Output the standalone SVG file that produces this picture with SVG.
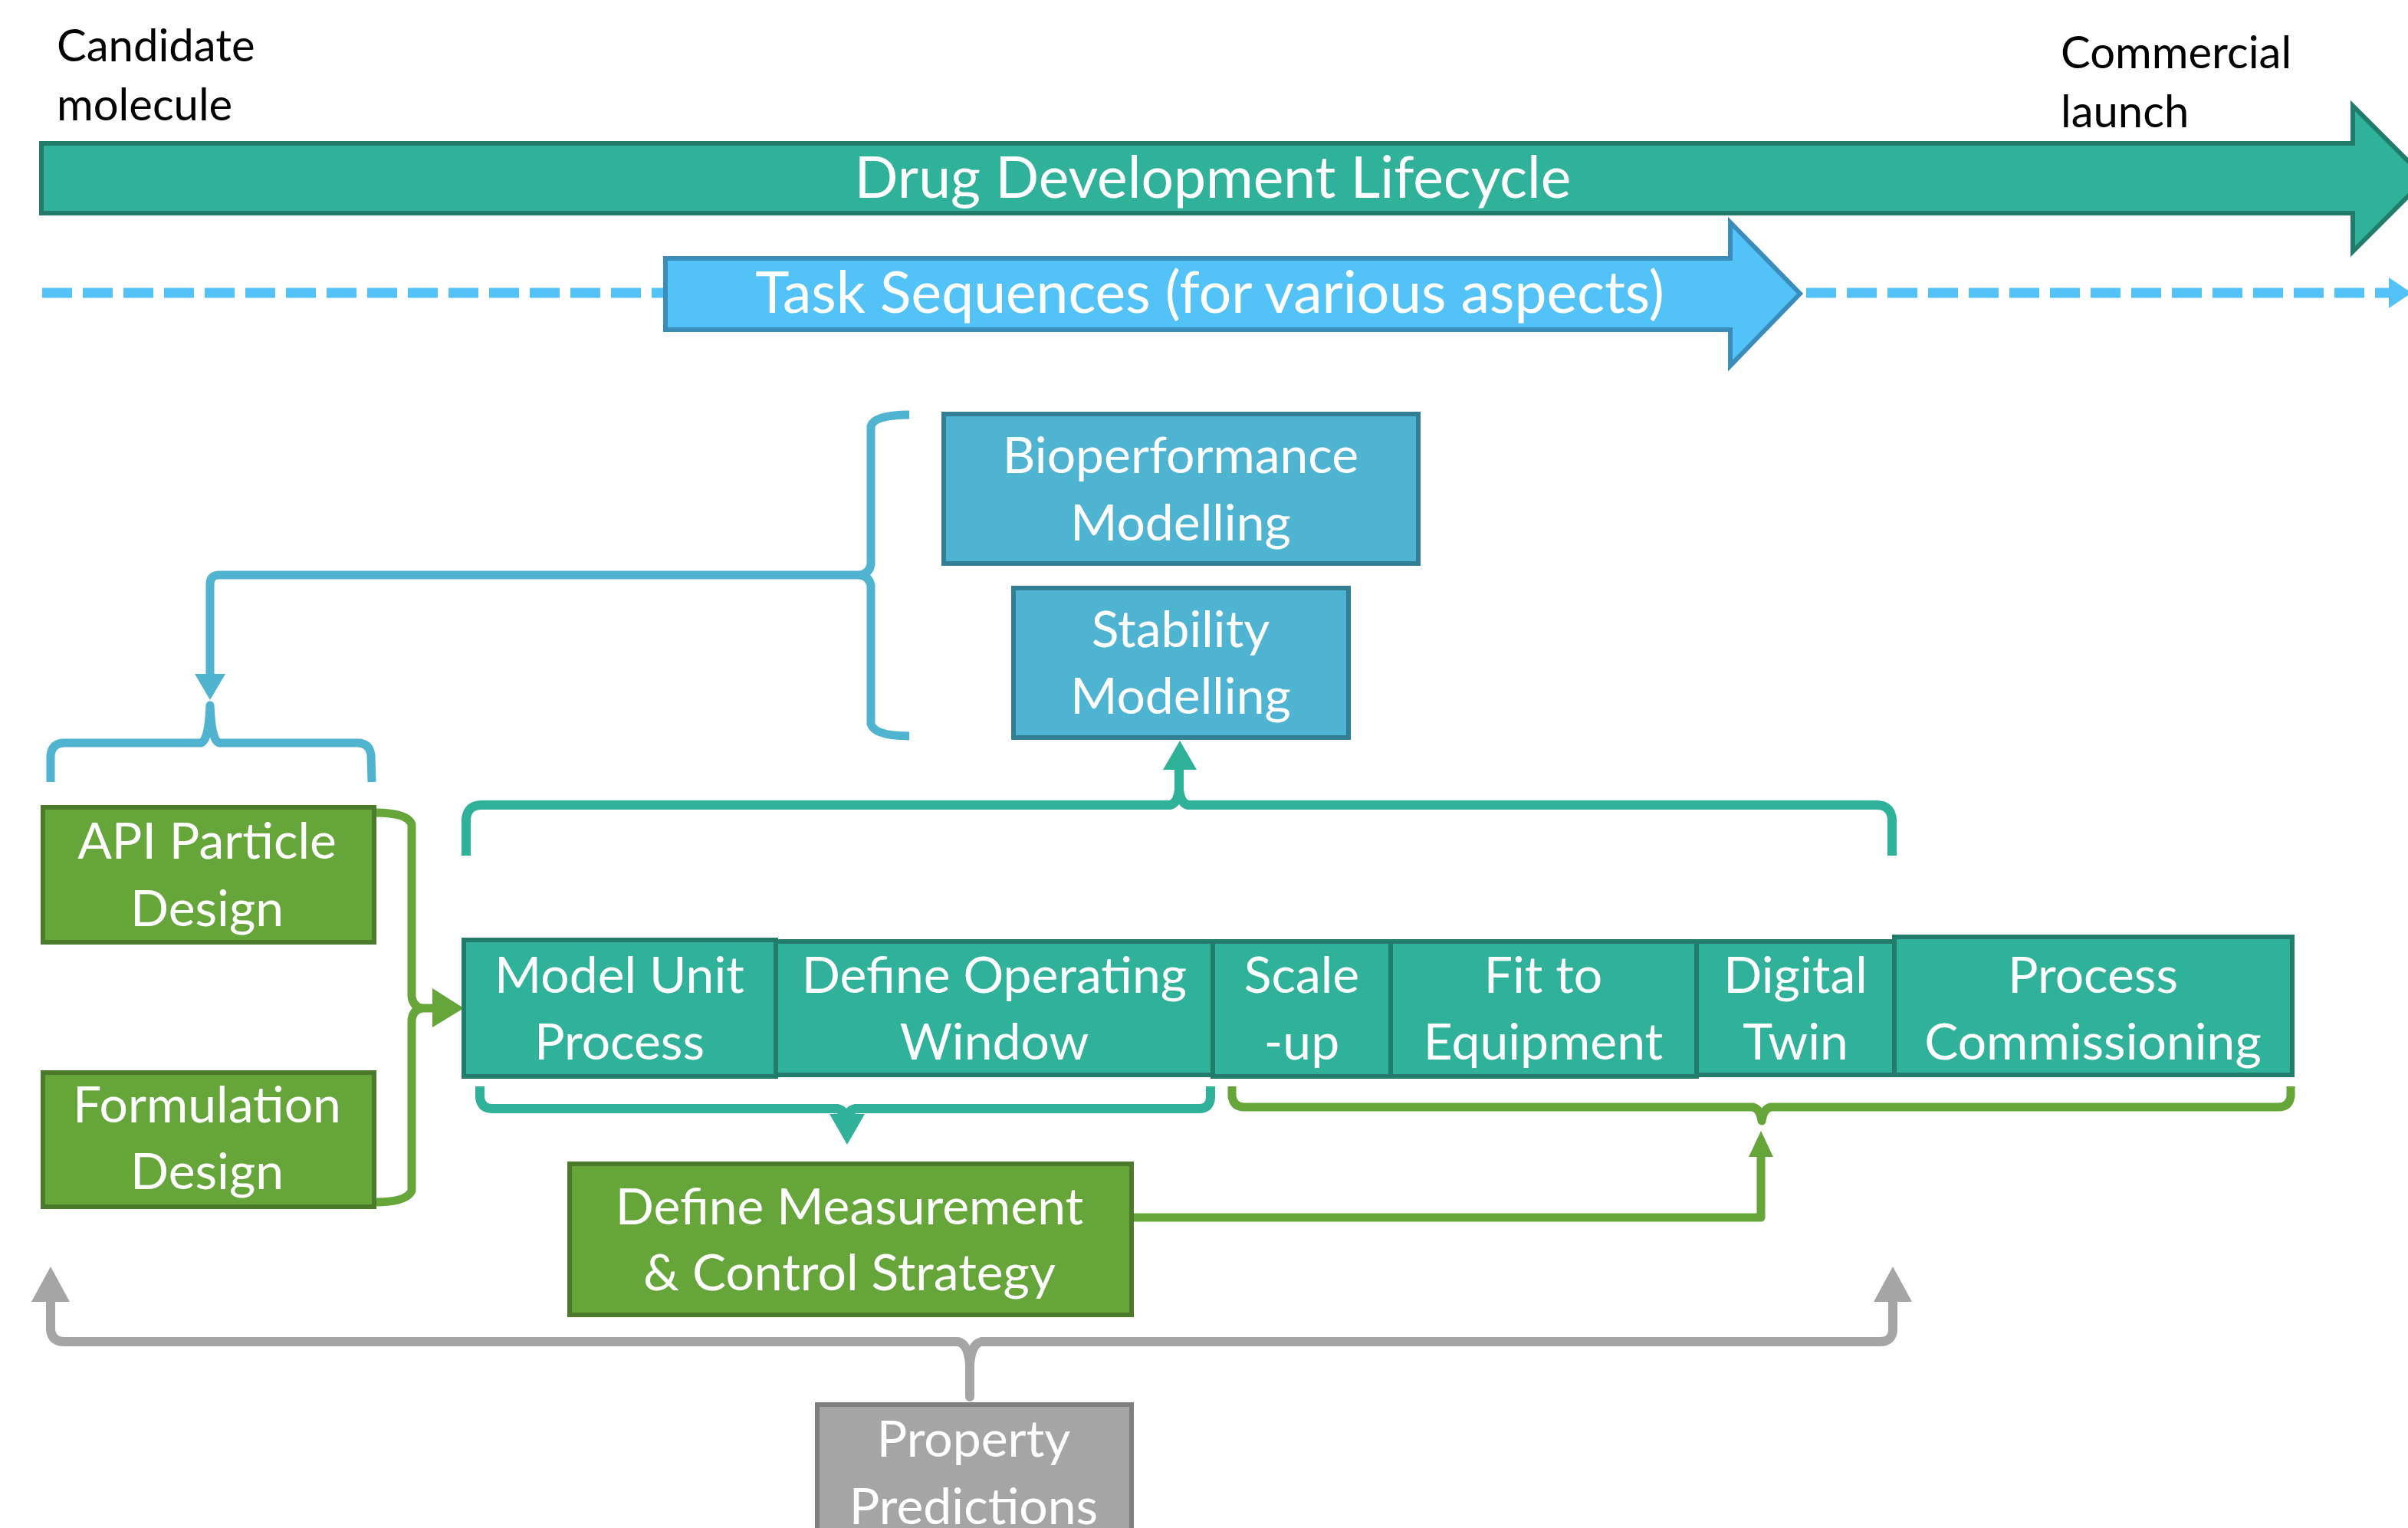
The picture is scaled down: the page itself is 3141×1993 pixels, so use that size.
<svg xmlns="http://www.w3.org/2000/svg" width="3141" height="1993" viewBox="0 0 3141 1993">
<style>
.bg{fill:#ffffff}
.t{font-family:Lato,"Liberation Sans",sans-serif;fill:#ffffff;text-anchor:middle;font-size:66px}
.big{font-family:Lato,"Liberation Sans",sans-serif;fill:#ffffff;text-anchor:middle;font-size:75px}
.lbl{font-family:Lato,"Liberation Sans",sans-serif;fill:#000000;font-size:58px}
.teal{fill:#2FB19A;stroke:#217C6C;stroke-width:6}
.blue{fill:#4FB3D2;stroke:#327E94;stroke-width:6}
.lblue{fill:#53C3F7;stroke:#3A8CBA;stroke-width:6}
.green{fill:#66A53A;stroke:#4A7A2A;stroke-width:6}
.gray{fill:#A5A5A5;stroke:#7F7F7F;stroke-width:6}
.cb{fill:none;stroke:#50B3D0;stroke-width:11;stroke-linejoin:round}
.ct{fill:none;stroke:#2FB19A;stroke-width:12;stroke-linejoin:round}
.cg{fill:none;stroke:#66A53A;stroke-width:11;stroke-linejoin:round}
.cgr{fill:none;stroke:#A5A5A5;stroke-width:12;stroke-linejoin:round}
.cd{fill:none;stroke:#53C3F7;stroke-width:13;stroke-dasharray:39 14}
</style>
<rect class="bg" x="0" y="0" width="3141" height="1993"/>

<g id="connectors">
  <path class="cd" d="M55,382 H868"/>
  <path class="cd" d="M2356,382 H3118"/>
  <polygon fill="#53C3F7" points="3116,362 3146,382 3116,402"/>

  <path class="cb" d="M1186,541 Q1140,541 1136,556 L1136,736 Q1134,748 1122,750 Q1134,752 1136,764 L1136,944 Q1140,960 1186,960"/>
  <path class="cb" d="M1124,750 L286,750 Q274,750 274,762 L274,882"/>
  <polygon fill="#50B3D0" points="254,879 294,879 274,913"/>
  <path class="cb" d="M66,1020 L66,985 Q68,969 84,969 L262,969 Q272,967 274,920 Q276,967 286,969 L466,969 Q482,969 484,985 L485,1020"/>

  <path class="ct" d="M608,1116 L608,1068 Q610,1050 628,1050 L1526,1050 Q1536,1048 1538,1030 Q1540,1048 1550,1050 L2448,1050 Q2466,1050 2468,1068 L2468,1116"/>
  <path class="ct" d="M1538,1036 L1538,1000"/>
  <polygon fill="#2FB19A" points="1517,1004 1561,1004 1539,966"/>

  <path class="ct" d="M626,1417 L626,1432 Q628,1446 642,1446 L1092,1446 Q1102,1448 1104,1460 Q1106,1448 1116,1446 L1564,1446 Q1578,1446 1579,1432 L1579,1417"/>
  <polygon fill="#2FB19A" points="1082,1453 1128,1453 1105,1493"/>

  <path class="cg" d="M1607,1417 L1607,1430 Q1609,1444 1623,1444 L2286,1444 Q2296,1446 2298,1462 Q2300,1446 2310,1444 L2972,1444 Q2986,1444 2988,1430 L2988,1417"/>
  <path class="cg" d="M1476,1588 L2297,1588 L2297,1505"/>
  <polygon fill="#66A53A" points="2281,1509 2313,1509 2297,1475"/>

  <path class="cg" d="M489,1060 Q531,1060 537,1075 L537,1300 Q539,1313 550,1315 Q539,1317 537,1330 L537,1553 Q531,1568 489,1568"/>
  <path class="cg" d="M548,1315 L568,1315"/>
  <polygon fill="#66A53A" points="564,1289 605,1315 564,1340"/>

  <path class="cgr" d="M66,1698 L66,1735 Q68,1750 84,1750 L1250,1750 Q1263,1753 1265,1780 L1265,1822 L1265,1780 Q1267,1753 1280,1750 L2452,1750 Q2468,1750 2469,1735 L2469,1698"/>
  <polygon fill="#A5A5A5" points="41,1698 91,1698 66,1652"/>
  <polygon fill="#A5A5A5" points="2444,1698 2494,1698 2469,1652"/>
</g>

<g id="label-candidate">
  <text class="lbl" x="74" y="80">Candidate</text>
  <text class="lbl" x="74" y="157">molecule</text>
</g>
<g id="label-commercial">
  <text class="lbl" x="2688" y="89">Commercial</text>
  <text class="lbl" x="2688" y="166">launch</text>
</g>

<g id="drug-lifecycle">
  <polygon class="teal" points="54,187 3069,187 3069,138 3164,233 3069,328 3069,278 54,278"/>
  <text class="big" x="1582" y="258">Drug Development Lifecycle</text>
</g>

<g id="task-sequences">
  <polygon class="lblue" points="868,337 2257,337 2257,290 2348,383 2257,477 2257,430 868,430"/>
  <text class="big" x="1578" y="408" font-size="77">Task Sequences (for various aspects)</text>
</g>

<g id="bioperformance">
  <rect class="blue" x="1231" y="540" width="619" height="195"/>
  <text class="t" x="1540" y="617">Bioperformance</text>
  <text class="t" x="1540" y="705">Modelling</text>
</g>
<g id="stability">
  <rect class="blue" x="1322" y="767" width="437" height="195"/>
  <text class="t" x="1540" y="844">Stability</text>
  <text class="t" x="1540" y="931">Modelling</text>
</g>

<g id="api-particle">
  <rect class="green" x="56" y="1053" width="432" height="176"/>
  <text class="t" x="270" y="1120">API Particle</text>
  <text class="t" x="270" y="1208">Design</text>
</g>
<g id="formulation">
  <rect class="green" x="56" y="1399" width="432" height="175"/>
  <text class="t" x="270" y="1464">Formulation</text>
  <text class="t" x="270" y="1551">Design</text>
</g>

<g id="model-unit-process">
  <rect class="teal" x="605" y="1226" width="407" height="178"/>
  <text class="t" x="808" y="1295">Model Unit</text>
  <text class="t" x="808" y="1382">Process</text>
</g>
<g id="define-operating-window">
  <rect class="teal" x="1012" y="1228" width="570" height="174"/>
  <text class="t" x="1297" y="1295">Define Operating</text>
  <text class="t" x="1297" y="1382">Window</text>
</g>
<g id="scale-up">
  <rect class="teal" x="1582" y="1228" width="232" height="176"/>
  <text class="t" x="1698" y="1295">Scale</text>
  <text class="t" x="1698" y="1382">-up</text>
</g>
<g id="fit-to-equipment">
  <rect class="teal" x="1814" y="1228" width="399" height="176"/>
  <text class="t" x="2013" y="1295">Fit to</text>
  <text class="t" x="2013" y="1382">Equipment</text>
</g>
<g id="digital-twin">
  <rect class="teal" x="2213" y="1228" width="258" height="174"/>
  <text class="t" x="2342" y="1295">Digital</text>
  <text class="t" x="2342" y="1382">Twin</text>
</g>
<g id="process-commissioning">
  <rect class="teal" x="2471" y="1222" width="519" height="180"/>
  <text class="t" x="2730" y="1295">Process</text>
  <text class="t" x="2730" y="1382">Commissioning</text>
</g>

<g id="define-measurement">
  <rect class="green" x="743" y="1518" width="733" height="197"/>
  <text class="t" x="1108" y="1597">Define Measurement</text>
  <text class="t" x="1108" y="1683">&amp; Control Strategy</text>
</g>

<g id="property-predictions">
  <rect class="gray" x="1066" y="1832" width="410" height="200"/>
  <text class="t" x="1270" y="1900">Property</text>
  <text class="t" x="1270" y="1988">Predictions</text>
</g>
</svg>
